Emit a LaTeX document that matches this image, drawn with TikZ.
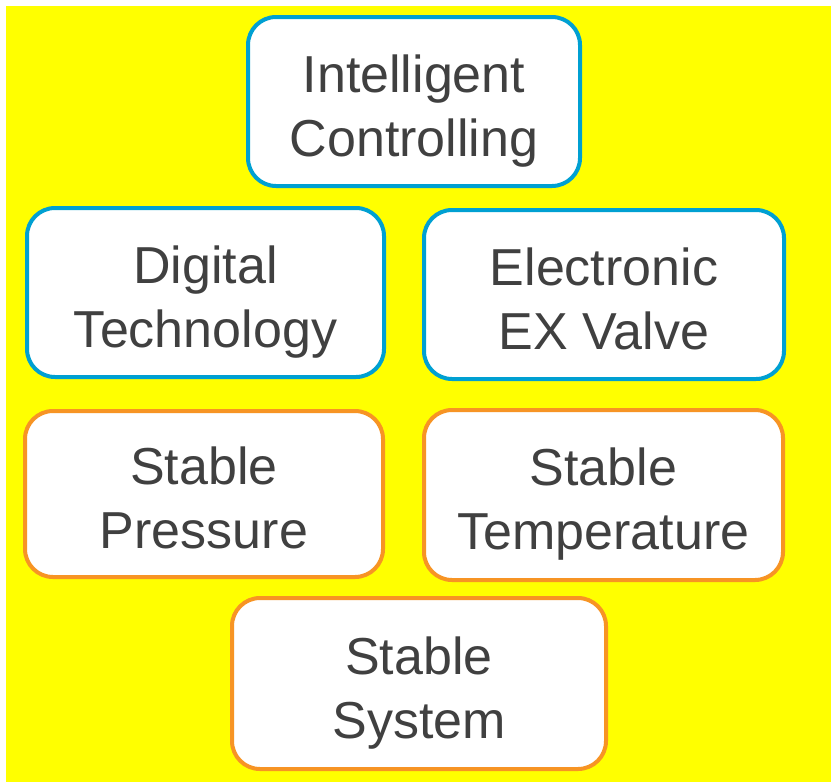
\documentclass[tikz,border=0pt]{standalone}
\usepackage{fontspec}
\setmainfont{Liberation Sans}
\definecolor{bgyellow}{RGB}{255,255,0}
\definecolor{boxblue}{RGB}{0,160,210}
\definecolor{boxorange}{RGB}{247,148,36}
\definecolor{txtgray}{RGB}{64,64,64}
\begin{document}
\begin{tikzpicture}[x=0.75pt,y=-0.75pt,
  card/.style={draw, line width=3pt, fill=white, rounded corners=21pt,
    text=txtgray, font=\fontsize{39pt}{48pt}\selectfont, align=center,
    inner sep=0pt, text height=90pt, text depth=8.25pt},
  bluecard/.style={card, draw=boxblue},
  orangecard/.style={card, draw=boxorange}]
\useasboundingbox (0,0) rectangle (831,782);
\fill[bgyellow] (6,6) rectangle (831,782);
\node[bluecard, minimum width=249pt, minimum height=126.75pt] (ic) at (414,101.5) {Intelligent\\Controlling};
\node[bluecard, minimum width=267.75pt, minimum height=126.75pt] (dt) at (205.5,292.5) {Digital\\Technology};
\node[bluecard, minimum width=270pt, minimum height=126.75pt] (ev) at (604,294.5) {Electronic\\EX Valve};
\node[orangecard, minimum width=268.5pt, minimum height=124.5pt] (sp) at (204,494) {Stable\\Pressure};
\node[orangecard, minimum width=269.25pt, minimum height=127.5pt] (st) at (603.5,495) {Stable\\Temperature};
\node[orangecard, minimum width=280.5pt, minimum height=128.25pt] (ss) at (419,683.5) {Stable\\System};
\end{tikzpicture}
\end{document}
